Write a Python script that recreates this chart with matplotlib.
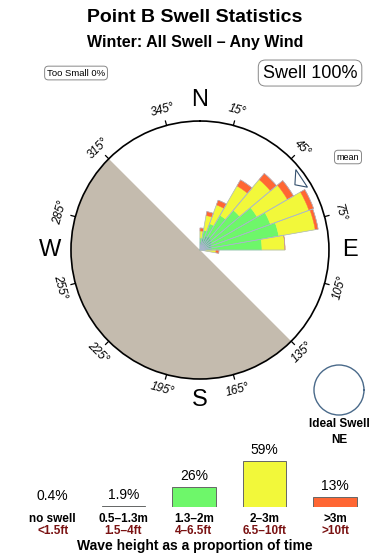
import numpy as np
import matplotlib
matplotlib.use("Agg")
import matplotlib.pyplot as plt

plt.rcParams['font.family'] = ['Liberation Sans', 'DejaVu Sans']

# swell rose: sector centre bearings and band lengths (stacked, arbitrary units, rim = 129)
directions = [5, 15, 25, 35, 45, 55, 65, 75, 85, 95]
band_05_13 = [8, 12, 15, 16, 15, 14, 13, 12, 12, 0]
band_13_20 = [4, 8, 13, 24, 37, 52, 62, 68, 50, 0]
band_20_30 = [7, 15, 20, 34, 40, 35, 41, 37, 23, 16]
band_gt30 = [3, 4, 5, 7, 8, 7, 5, 3, 0, 3]
rose_max = 129
mean_dir = 55
land_from, land_to = 135, 315

# wave height legend
legend_pct = [0.4, 1.9, 26, 59, 13]
legend_m = ["no swell", "0.5\u20131.3m", "1.3\u20132m", "2\u20133m", ">3m"]
legend_ft = ["<1.5ft", "1.5\u20134ft", "4\u20136.5ft", "6.5\u201310ft", ">10ft"]
legend_col = ["#b9b9cc", "#4f9a66", "#6ef76a", "#f2f83a", "#ff6633"]

deg_ticks = [15, 45, 75, 105, 135, 165, 195, 225, 255, 285, 315, 345]
compass = {"N": 0, "E": 90, "S": 180, "W": 270}

fig = plt.figure(figsize=(3.9, 5.6), dpi=100)

fig.text(0.5, 0.968, "Point B Swell Statistics", ha="center", va="center",
         fontsize=14, fontweight="bold")
fig.text(0.5, 0.925, "Winter: All Swell \u2013 Any Wind", ha="center", va="center",
         fontsize=11.5, fontweight="bold")
box = dict(boxstyle="round,pad=0.25,rounding_size=0.4", fc="white", ec="#888888", lw=0.7)
fig.text(0.195, 0.8696, "Too Small 0%", ha="center", va="center", fontsize=6.8, bbox=box)
fig.text(0.795, 0.8696, "Swell 100%", ha="center", va="center", fontsize=13, bbox=box)
fig.text(0.8923, 0.7196, "mean", ha="center", va="center", fontsize=6.5, bbox=box)

# main rose
ax = fig.add_axes([0.182, 0.3232, 0.6615, 0.4607], projection="polar")
ax.set_theta_zero_location("N")
ax.set_theta_direction(-1)
ax.set_ylim(0, rose_max)
ax.grid(False)
ax.set_xticks([])
ax.set_yticks([])
ax.spines["polar"].set_linewidth(1.2)

# land half
land_mid = np.radians((land_from + land_to) / 2)
ax.bar(land_mid, rose_max, width=np.radians(land_to - land_from), bottom=0,
       color="#c4bbae", edgecolor="none", zorder=1)

th = np.radians(directions)
w = np.radians(10)
bottom = np.zeros(len(directions))
for vals, col in [(band_05_13, "#63c98b"), (band_13_20, "#6ef76a"),
                  (band_20_30, "#f2f83a"), (band_gt30, "#ff6633")]:
    v = np.array(vals, dtype=float)
    ax.bar(th, v, width=w, bottom=bottom, color=col, edgecolor=col,
           linewidth=0.3, zorder=2)
    bottom = bottom + v
ax.bar(th, bottom, width=w, bottom=0, fill=False, edgecolor="#a9b6cc",
       linewidth=0.5, zorder=3)

# degree ticks and labels
for d in deg_ticks:
    t = np.radians(d)
    ax.plot([t, t], [rose_max, rose_max * 1.035], color="black", lw=0.9,
            clip_on=False, zorder=4)
    rot = -d
    if 90 < d < 270:
        rot += 180
    ax.text(t, rose_max * 1.12, f"{d}\u00b0", rotation=rot, ha="center", va="center",
            fontsize=8.5, style="italic", rotation_mode="anchor", clip_on=False)
for lab, d in compass.items():
    ax.text(np.radians(d), rose_max * 1.16, lab, ha="center", va="center",
            fontsize=17, clip_on=False)

# mean direction arrow
m = mean_dir
ax.fill(np.radians([m - 5, m + 0.5, m + 4.7]),
        [rose_max * 0.97, rose_max * 0.893, rose_max * 0.965],
        fc="white", ec="#34506e", lw=0.8, clip_on=False, zorder=5)

# ideal swell (empty rose)
ax2 = fig.add_axes([0.8051, 0.2589, 0.1282, 0.0893], projection="polar")
ax2.grid(False)
ax2.set_xticks([])
ax2.set_yticks([])
ax2.spines["polar"].set_color("#4a6a8a")
ax2.spines["polar"].set_linewidth(1.0)
fig.text(0.8692, 0.2429, "Ideal Swell", ha="center", va="center", fontsize=8.5,
         fontweight="bold")
fig.text(0.8692, 0.2143, "NE", ha="center", va="center", fontsize=8.5,
         fontweight="bold")

# wave height bars
bx = fig.add_axes([0.0449, 0.0946, 0.905, 0.0975])
xs = np.arange(len(legend_pct))
bx.bar(xs, legend_pct, width=0.62, color=legend_col, edgecolor="#666666", linewidth=0.7)
bx.set_xlim(-0.5, len(legend_pct) - 0.5)
bx.set_ylim(0, 70)
bx.axis("off")
for i, p in enumerate(legend_pct):
    bx.annotate(f"{p:g}%", (i, p), xytext=(0, 4), textcoords="offset pixels",
                ha="center", va="bottom", fontsize=10)
    bx.annotate(legend_m[i], (i, 0), xytext=(0, -12), textcoords="offset pixels",
                ha="center", va="center", fontsize=8.5, fontweight="bold")
    bx.annotate(legend_ft[i], (i, 0), xytext=(0, -24), textcoords="offset pixels",
                ha="center", va="center", fontsize=8.5, fontweight="bold", color="#7a1212")
fig.text(0.5, 0.025, "Wave height as a proportion of time", ha="center", va="center",
         fontsize=10, fontweight="bold")

fig.savefig("out.png", dpi=100)
